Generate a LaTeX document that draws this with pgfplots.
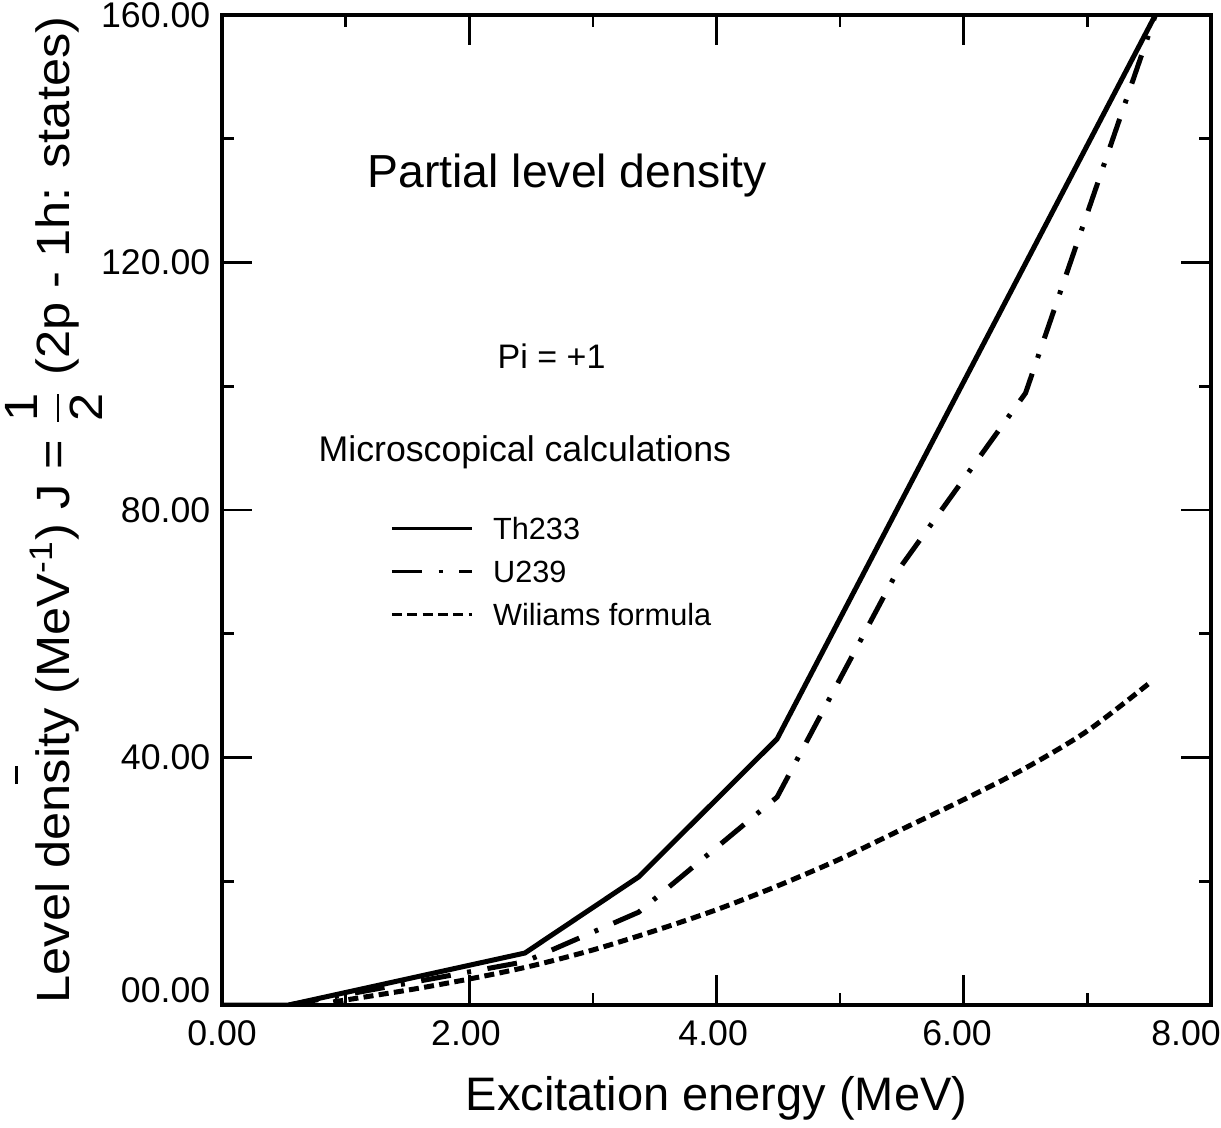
\documentclass[border=0pt]{standalone}
\usepackage{pgfplots}
\pgfplotsset{compat=1.18}
\usepackage{amsmath}
\usepackage{graphicx}
\usepackage{fontspec}
\setmainfont{Liberation Sans}

\pgfplotstableread{
x y
0.00 0.0
0.54 0.0
2.45 8.4
3.37 20.7
4.49 43.0
7.55 160.0
}\thdata

\pgfplotstableread{
x y
0.54 0.0
2.45 7.0
3.37 15.0
4.49 33.6
5.46 70.0
6.50 98.9
7.55 160.0
}\udata

\pgfplotstableread{
x y
0.90 0.5
1.50 2.4
2.00 4.2
2.50 6.3
3.00 8.9
3.50 12.0
4.00 15.4
4.50 19.3
5.00 23.6
5.50 28.4
6.00 33.2
6.50 38.3
7.00 44.3
7.50 52.0
}\wdata

\begin{document}
\begin{tikzpicture}
\useasboundingbox (-66.6pt,-36.6pt) rectangle (299.7pt,301.5pt);
\begin{axis}[
  at={(0pt,0pt)}, anchor=south west,
  scale only axis, width=296.7pt, height=297pt,
  xmin=0, xmax=8, ymin=0, ymax=160,
  axis line style={line width=1pt},
  xtick={0,2,4,6,8}, xticklabels={0.00,\hspace*{-2pt}2.00,\hspace*{-2pt}4.00,\hspace*{-4pt}6.00,\hspace*{-15pt}8.00},
  ytick={0,40,80,120,160}, yticklabels={\raisebox{9pt}{00.00},40.00,80.00,120.00,160.00},
  minor x tick num=1, minor y tick num=1,
  tick align=inside, major tick length=9pt, minor tick length=3.6pt,
  every tick/.style={black, line width=0.8pt},
  tick label style={font=\fontsize{10.7}{12}\selectfont, /pgf/number format/assume math mode=true},
  xticklabel style={yshift=-1pt},
  xlabel={Excitation energy (MeV)},
  xlabel style={font=\fontsize{14.1}{17}\selectfont, at={(axis description cs:0.5,-0.094)}, anchor=center},
  ylabel={\resizebox{296pt}{\height}{Level den\rlap{\raisebox{15.5pt}{\rule{5pt}{0.9pt}}}sity (MeV\textsuperscript{-1}) J = $\dfrac{\text{1}}{\text{2}}$ (2p - 1h: states)}},
  ylabel style={font=\fontsize{14}{17}\selectfont, at={(axis description cs:-0.1537,0.5)}, anchor=base},
  legend style={at={(axis cs:1.36,78.9)}, anchor=north west, draw=none, fill=none, inner sep=0pt,
    font=\fontsize{9.2}{11}\selectfont, row sep=6.3pt, column sep=6pt,
    nodes={inner sep=0pt, text height=6.6pt, text depth=0pt}},
  legend cell align=left,
  legend image code/.code={\draw[#1, line width=0.7pt] (0pt,0pt) -- (24pt,0pt);},
]
\addplot[black, line width=1.5pt] table[x=x,y=y] {\thdata};
\addlegendentry{Th233}
\addplot[black, line width=1.5pt, dash pattern=on 9pt off 5pt on 1.2pt off 5pt] table[x=x,y=y] {\udata};
\addlegendentry{U239}
\addplot[black, line width=1.5pt, dash pattern=on 3pt off 1.6pt, smooth] table[x=x,y=y] {\wdata};
\addlegendentry{Wiliams formula}

\node[anchor=base west, inner sep=0pt, font=\fontsize{13.9}{16}\selectfont] at (axis cs:1.173,132.2) {Partial level density};
\node[anchor=base west, inner sep=0pt, font=\fontsize{10.2}{12}\selectfont] at (axis cs:2.225,102.9) {Pi = +1};
\node[anchor=base west, inner sep=0pt, font=\fontsize{10.7}{12}\selectfont] at (axis cs:0.777,87.9) {Microscopical calculations};
\end{axis}
\end{tikzpicture}
\end{document}
